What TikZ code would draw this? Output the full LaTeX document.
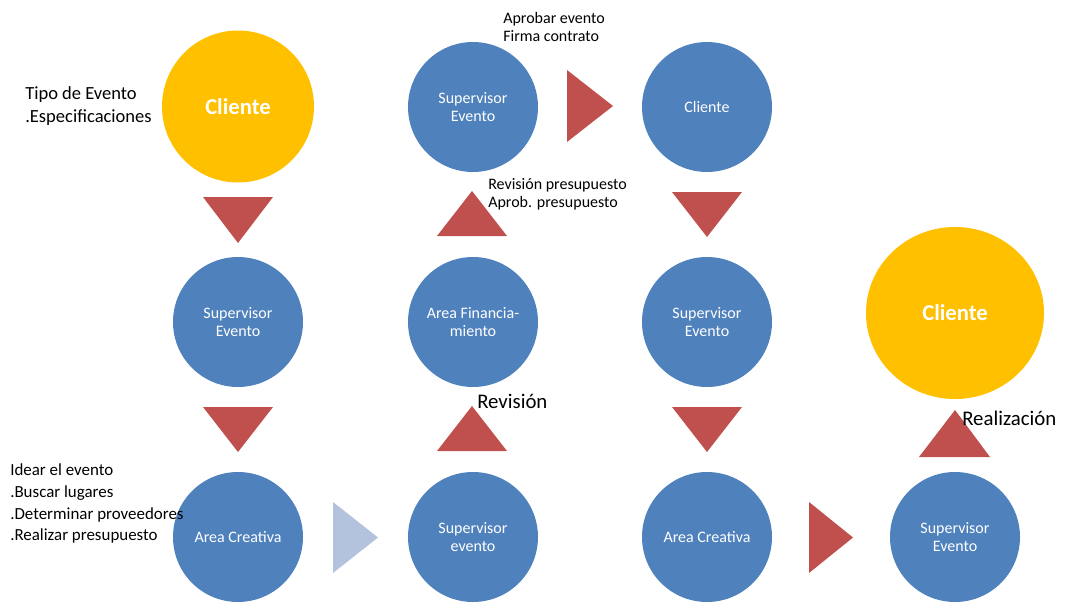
\documentclass[tikz,border=0pt]{standalone}
\usepackage{fontspec}
\setmainfont{Carlito}
\usetikzlibrary{shapes.geometric}
\definecolor{cblue}{HTML}{4F81BD}
\definecolor{corange}{HTML}{FFC000}
\definecolor{cred}{HTML}{C0504D}
\definecolor{clight}{HTML}{B3C3DD}
\tikzset{
  bcirc/.style={circle, fill=cblue, draw=none, minimum size=97.5pt, inner sep=0pt, text=white, align=center, font=\fontsize{12}{13.8}\selectfont},
  ocirc/.style={circle, fill=corange, draw=none, minimum size=114pt, inner sep=0pt, text=white, font=\fontsize{17}{20}\selectfont\bfseries},
  redtri/.style={fill=cred, draw=none},
  lbl/.style={anchor=base west, inner sep=0pt, text=black},
}
\begin{document}
\begin{tikzpicture}[x=0.75pt, y=-0.75pt]
\useasboundingbox (0,0) rectangle (1065,604);
% circles
\node[ocirc] (c1) at (238,106.5) {Cliente};
\node[bcirc] (s1) at (473,107) {Supervisor\\Evento};
\node[bcirc] (c2) at (707,107) {Cliente};
\node[bcirc] (s2) at (238,322) {Supervisor\\Evento};
\node[bcirc] (f1) at (473,322) {Area Financia-\\miento};
\node[bcirc] (s3) at (707,322) {Supervisor\\Evento};
\node[ellipse, fill=corange, minimum width=133.5pt, minimum height=129pt, inner sep=0pt, text=white, font=\fontsize{17}{20}\selectfont\bfseries] (c3) at (955,313) {Cliente};
\node[bcirc] (a1) at (238,537) {Area Creativa};
\node[bcirc] (s4) at (473,537) {Supervisor\\evento};
\node[bcirc] (a2) at (707,537) {Area Creativa};
\node[bcirc] (s5) at (955,537) {Supervisor\\Evento};
% triangles
\fill[redtri] (203,197) -- (273,197) -- (238,243) -- cycle;
\fill[redtri] (203,407) -- (273,407) -- (238,452) -- cycle;
\fill[redtri] (437,236) -- (507,236) -- (472,191) -- cycle;
\fill[redtri] (437,451) -- (507,451) -- (472,406) -- cycle;
\fill[redtri] (567,70) -- (567,142) -- (613,106) -- cycle;
\fill[redtri] (672,192) -- (742,192) -- (707,237) -- cycle;
\fill[redtri] (672,407) -- (742,407) -- (707,452) -- cycle;
\fill[clight] (333,502) -- (333,573) -- (378,537.5) -- cycle;
\fill[redtri] (809,502) -- (809,573) -- (853,537.5) -- cycle;
\fill[redtri] (919,457) -- (990,457) -- (955,410) -- cycle;
% labels
\begin{scope}[every node/.append style={font=\fontsize{13.9}{16}\selectfont}]
\node[lbl] (t1) at (25,99) {Tipo de Evento};
\node[lbl] (t2) at (25,122) {.Especificaciones};
\end{scope}
\begin{scope}[every node/.append style={font=\fontsize{12}{14}\selectfont}]
\node[lbl] (t3) at (503,23) {Aprobar evento};
\node[lbl] (t4) at (503,41) {Firma contrato};
\node[lbl] (t5) at (488,189) {Revisión presupuesto};
\node[lbl] (t6) at (488,207) {Aprob. presupuesto};
\end{scope}
\begin{scope}[every node/.append style={font=\fontsize{12.7}{15}\selectfont}]
\node[lbl] (t7) at (10,475) {Idear el evento};
\node[lbl] (t8) at (10,497) {.Buscar lugares};
\node[lbl] (t9) at (10,519) {.Determinar proveedores};
\node[lbl] (t10) at (10,540) {.Realizar presupuesto};
\end{scope}
\begin{scope}[every node/.append style={font=\fontsize{15.6}{18}\selectfont}]
\node[lbl] (t11) at (477,408) {Revisión};
\node[lbl] (t12) at (962,425) {Realización};
\end{scope}
\end{tikzpicture}
\end{document}
